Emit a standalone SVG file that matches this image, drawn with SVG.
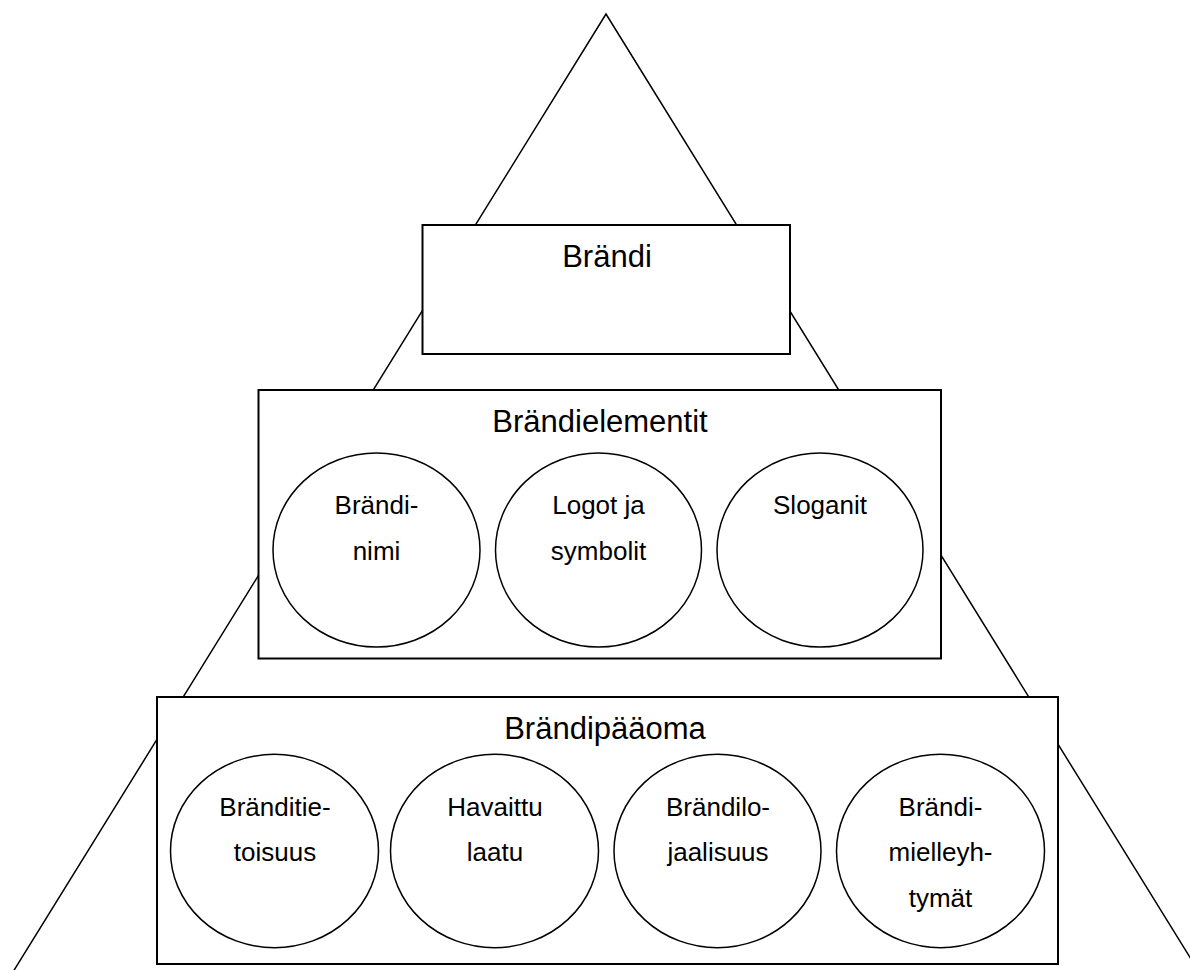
<svg xmlns="http://www.w3.org/2000/svg" width="1190" height="970" viewBox="0 0 1190 970">
<style>
.bg{fill:#fff}
.tri{fill:none;stroke:#000;stroke-width:1.5}
.box{fill:#fff;stroke:#000;stroke-width:2}
.circ{fill:#fff;stroke:#000;stroke-width:1.5}
.t{font-family:"Liberation Sans",Arial,sans-serif;fill:#000;text-anchor:middle}
.big{font-size:31px}
.sm{font-size:26px}
</style>
<rect class="bg" x="0" y="0" width="1190" height="970"/>
<g id="connectors">
<polyline class="tri" points="8,980 606,14 1204,980"/>
</g>
<g id="brandi">
<rect class="box" x="422.5" y="225" width="367.5" height="129"/>
<text class="t big" x="607" y="267">Brändi</text>
</g>
<g id="brandielementit">
<rect class="box" x="258.5" y="390" width="682.5" height="268.5"/>
<text class="t big" x="600" y="431.5">Brändielementit</text>
</g>
<g id="brandinimi">
<ellipse class="circ" cx="376.5" cy="550" rx="103.5" ry="97"/>
<text class="t sm" x="376.5" y="514">Brändi-</text>
<text class="t sm" x="376.5" y="560">nimi</text>
</g>
<g id="logot">
<ellipse class="circ" cx="598.5" cy="550" rx="103" ry="97"/>
<text class="t sm" x="598.5" y="514">Logot ja</text>
<text class="t sm" x="598.5" y="560">symbolit</text>
</g>
<g id="sloganit">
<ellipse class="circ" cx="820" cy="550" rx="103" ry="97"/>
<text class="t sm" x="820" y="514">Sloganit</text>
</g>
<g id="brandipaaoma">
<rect class="box" x="157" y="697" width="901" height="267"/>
<text class="t big" x="605" y="739">Brändipääoma</text>
</g>
<g id="tietoisuus">
<ellipse class="circ" cx="274.5" cy="851" rx="104" ry="96.7"/>
<text class="t sm" x="275" y="815.7">Bränditie-</text>
<text class="t sm" x="275" y="861">toisuus</text>
</g>
<g id="laatu">
<ellipse class="circ" cx="494.5" cy="851" rx="104" ry="96.7"/>
<text class="t sm" x="495" y="815.7">Havaittu</text>
<text class="t sm" x="495" y="861">laatu</text>
</g>
<g id="lojaalisuus">
<ellipse class="circ" cx="717.5" cy="851" rx="103.5" ry="96.7"/>
<text class="t sm" x="718" y="815.7">Brändilo-</text>
<text class="t sm" x="718" y="861">jaalisuus</text>
</g>
<g id="mielleyhtymat">
<ellipse class="circ" cx="940.5" cy="851" rx="104" ry="96.7"/>
<text class="t sm" x="940.5" y="815.7">Brändi-</text>
<text class="t sm" x="940.5" y="861">mielleyh-</text>
<text class="t sm" x="940.5" y="907.3">tymät</text>
</g>
</svg>
